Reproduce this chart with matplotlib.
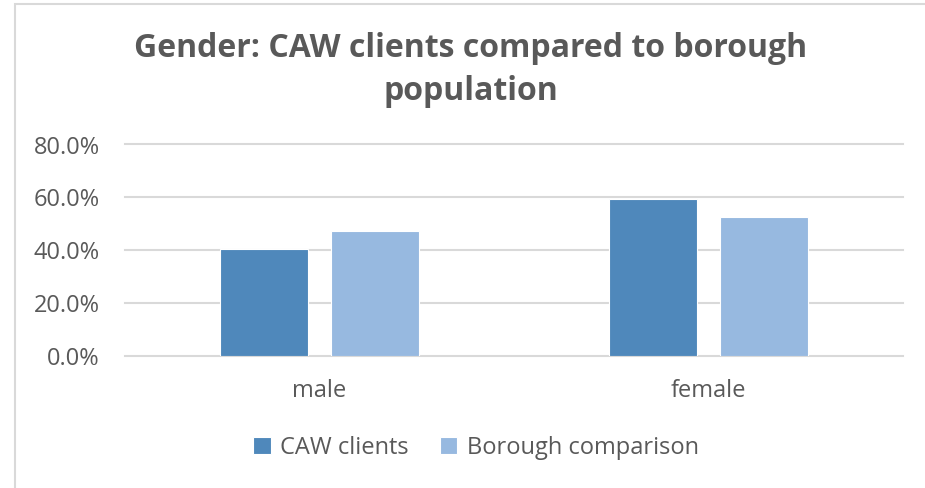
import numpy as np
import matplotlib.pyplot as plt
from matplotlib.patches import Rectangle
from matplotlib.ticker import FuncFormatter

plt.rcParams['font.family'] = ['Open Sans', 'DejaVu Sans']

categories = ['male', 'female']
caw_clients = [40.5, 59.5]
borough = [47.2, 52.4]
series_names = ['CAW clients', 'Borough comparison']
colors = ['#4F88BB', '#97B9E0']
text_color = '#595959'
grid_color = '#D9D9D9'

fig = plt.figure(figsize=(9.25, 4.88), dpi=100)
fig.patches.append(Rectangle((15 / 925, -0.01), 1.0, 1 - 4 / 488 + 0.01,
                             transform=fig.transFigure, fill=False,
                             edgecolor='#D9D9D9', linewidth=1.5))

ax = fig.add_axes([125 / 925, 1 - 355.7 / 488, 778 / 925, 211.2 / 488])

x = np.arange(len(categories))
width = 0.224
offset = 0.1427
ax.bar(x - offset, caw_clients, width, color=colors[0], edgecolor='white',
       linewidth=0.8, label=series_names[0], zorder=3)
ax.bar(x + offset, borough, width, color=colors[1], edgecolor='white',
       linewidth=0.8, label=series_names[1], zorder=3)

ax.set_xlim(-0.5, 1.5)
ax.set_ylim(0, 80)
ax.set_yticks([0, 20, 40, 60, 80])
ax.yaxis.set_major_formatter(FuncFormatter(lambda v, p: f'{v:.1f}%'))
ax.set_xticks(x)
ax.set_xticklabels(categories)
ax.tick_params(axis='both', length=0, labelsize=17, colors=text_color)
ax.tick_params(axis='x', pad=17)
ax.tick_params(axis='y', pad=18)
ax.grid(axis='y', color=grid_color, linewidth=1.5, zorder=0)
for line in ax.get_ygridlines():
    line.set_clip_on(False)
for s in ax.spines.values():
    s.set_visible(False)

fig.text(471 / 925, 1 - 70 / 488, 'Gender: CAW clients compared to borough\npopulation',
         ha='center', va='center', fontsize=23, fontweight='bold',
         color=text_color, linespacing=1.4)

ax.legend(loc='center', bbox_to_anchor=(476 / 925, 1 - 448 / 488),
          bbox_transform=fig.transFigure, ncol=2, frameon=False,
          fontsize=17, labelcolor=text_color, handlelength=0.75,
          handleheight=0.75, handletextpad=0.4, columnspacing=1.3)

fig.savefig('out.png', dpi=100)
